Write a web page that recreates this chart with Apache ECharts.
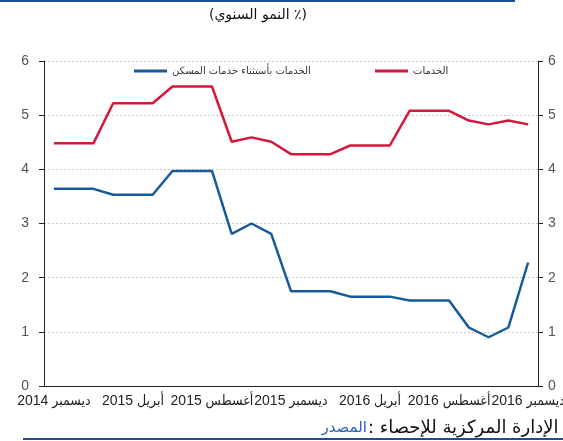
<!DOCTYPE html>
<html>
<head>
<meta charset="utf-8">
<script src="https://cdn.jsdelivr.net/npm/echarts@6/dist/echarts.min.js"></script>
<style>
  html, body { margin: 0; padding: 0; background: #fff; }
  #chart { width: 563px; height: 441px; }
</style>
</head>
<body>
<div id="chart"></div>
<script>
const months = [
  'ديسمبر 2014', 'يناير 2015', 'فبراير 2015', 'مارس 2015', 'أبريل 2015', 'مايو 2015',
  'يونيو 2015', 'يوليو 2015', 'أغسطس 2015', 'سبتمبر 2015', 'أكتوبر 2015', 'نوفمبر 2015',
  'ديسمبر 2015', 'يناير 2016', 'فبراير 2016', 'مارس 2016', 'أبريل 2016', 'مايو 2016',
  'يونيو 2016', 'يوليو 2016', 'أغسطس 2016', 'سبتمبر 2016', 'أكتوبر 2016', 'نوفمبر 2016',
  'ديسمبر 2016'
];

const services = [4.48, 4.48, 4.48, 5.22, 5.22, 5.22, 5.53, 5.53, 5.53, 4.51, 4.59, 4.51,
  4.28, 4.28, 4.28, 4.44, 4.44, 4.44, 5.08, 5.08, 5.08, 4.90, 4.83, 4.90, 4.83];

const servicesExHousing = [3.64, 3.64, 3.64, 3.53, 3.53, 3.53, 3.97, 3.97, 3.97, 2.81, 3.00, 2.81,
  1.75, 1.75, 1.75, 1.65, 1.65, 1.65, 1.58, 1.58, 1.58, 1.08, 0.90, 1.08, 2.28];

const nameServices = 'الخدمات';
const nameExHousing = 'الخدمات بأستثناء خدمات المسكن';

const chart = echarts.init(document.getElementById('chart'));

const yLabel = { color: '#555', fontSize: 14, fontFamily: 'Liberation Sans, Arial, sans-serif' };
const legendText = { color: '#333', fontSize: 10, fontFamily: 'DejaVu Sans, sans-serif' };

chart.setOption({
  animation: false,
  grid: { left: 44, right: 25, top: 61, bottom: 55, outerBoundsMode: 'none', containLabel: false },
  legend: [
    {
      left: 129, top: 61,
      data: [nameExHousing],
      icon: 'rect', itemWidth: 33, itemHeight: 3, itemGap: 5,
      textStyle: legendText
    },
    {
      left: 370, top: 61,
      data: [nameServices],
      icon: 'rect', itemWidth: 33, itemHeight: 3, itemGap: 5,
      textStyle: legendText
    }
  ],
  xAxis: {
    type: 'category',
    data: months,
    boundaryGap: true,
    axisLine: { lineStyle: { color: '#222', width: 1 } },
    axisTick: { interval: 3, length: 4, lineStyle: { color: '#222' } },
    axisLabel: {
      interval: 3,
      showMinLabel: true,
      showMaxLabel: true,
      hideOverlap: false,
      color: '#222',
      fontSize: 14,
      margin: 8,
      fontFamily: 'Liberation Sans, "DejaVu Sans Condensed", sans-serif'
    }
  },
  yAxis: [
    {
      type: 'value',
      min: 0, max: 6, interval: 1,
      position: 'left',
      axisLine: { show: true, lineStyle: { color: '#222' } },
      axisTick: { show: true, length: 5, lineStyle: { color: '#222' } },
      axisLabel: Object.assign({ margin: 15 }, yLabel),
      splitLine: { lineStyle: { color: '#c8c8c8', type: [2, 2] } }
    },
    {
      type: 'value',
      min: 0, max: 6, interval: 1,
      position: 'right',
      axisLine: { show: true, lineStyle: { color: '#222' } },
      axisTick: { show: true, length: 5, lineStyle: { color: '#222' } },
      axisLabel: Object.assign({ margin: 10 }, yLabel),
      splitLine: { show: false }
    }
  ],
  graphic: [
    { type: 'rect', shape: { x: 0, y: 0, width: 515, height: 2 }, style: { fill: '#1f4e8c' } },
    { type: 'rect', shape: { x: 23, y: 438, width: 540, height: 2 }, style: { fill: '#1f4e8c' } },
    {
      type: 'text', x: 258, y: 15,
      style: {
        text: '(النمو السنوي ٪)', fill: '#111', fontSize: 14,
        fontFamily: 'DejaVu Sans, sans-serif', align: 'center', verticalAlign: 'middle'
      }
    },
    {
      type: 'text', x: 367, y: 428,
      style: {
        text: 'المصدر', fill: '#2a64b0', fontSize: 15,
        fontFamily: 'DejaVu Sans, sans-serif', align: 'right', verticalAlign: 'middle'
      }
    },
    {
      type: 'text', x: 368, y: 428,
      style: {
        text: ': الإدارة المركزية للإحصاء', fill: '#111', fontSize: 18,
        fontFamily: 'DejaVu Sans, sans-serif', align: 'left', verticalAlign: 'middle'
      }
    }
  ],
  series: [
    {
      name: nameExHousing,
      type: 'line',
      data: servicesExHousing,
      symbol: 'none',
      lineStyle: { width: 2.5, color: '#165a9c' },
      itemStyle: { color: '#165a9c' }
    },
    {
      name: nameServices,
      type: 'line',
      data: services,
      symbol: 'none',
      lineStyle: { width: 2.5, color: '#d6173d' },
      itemStyle: { color: '#d6173d' }
    }
  ]
});
</script>
</body>
</html>
